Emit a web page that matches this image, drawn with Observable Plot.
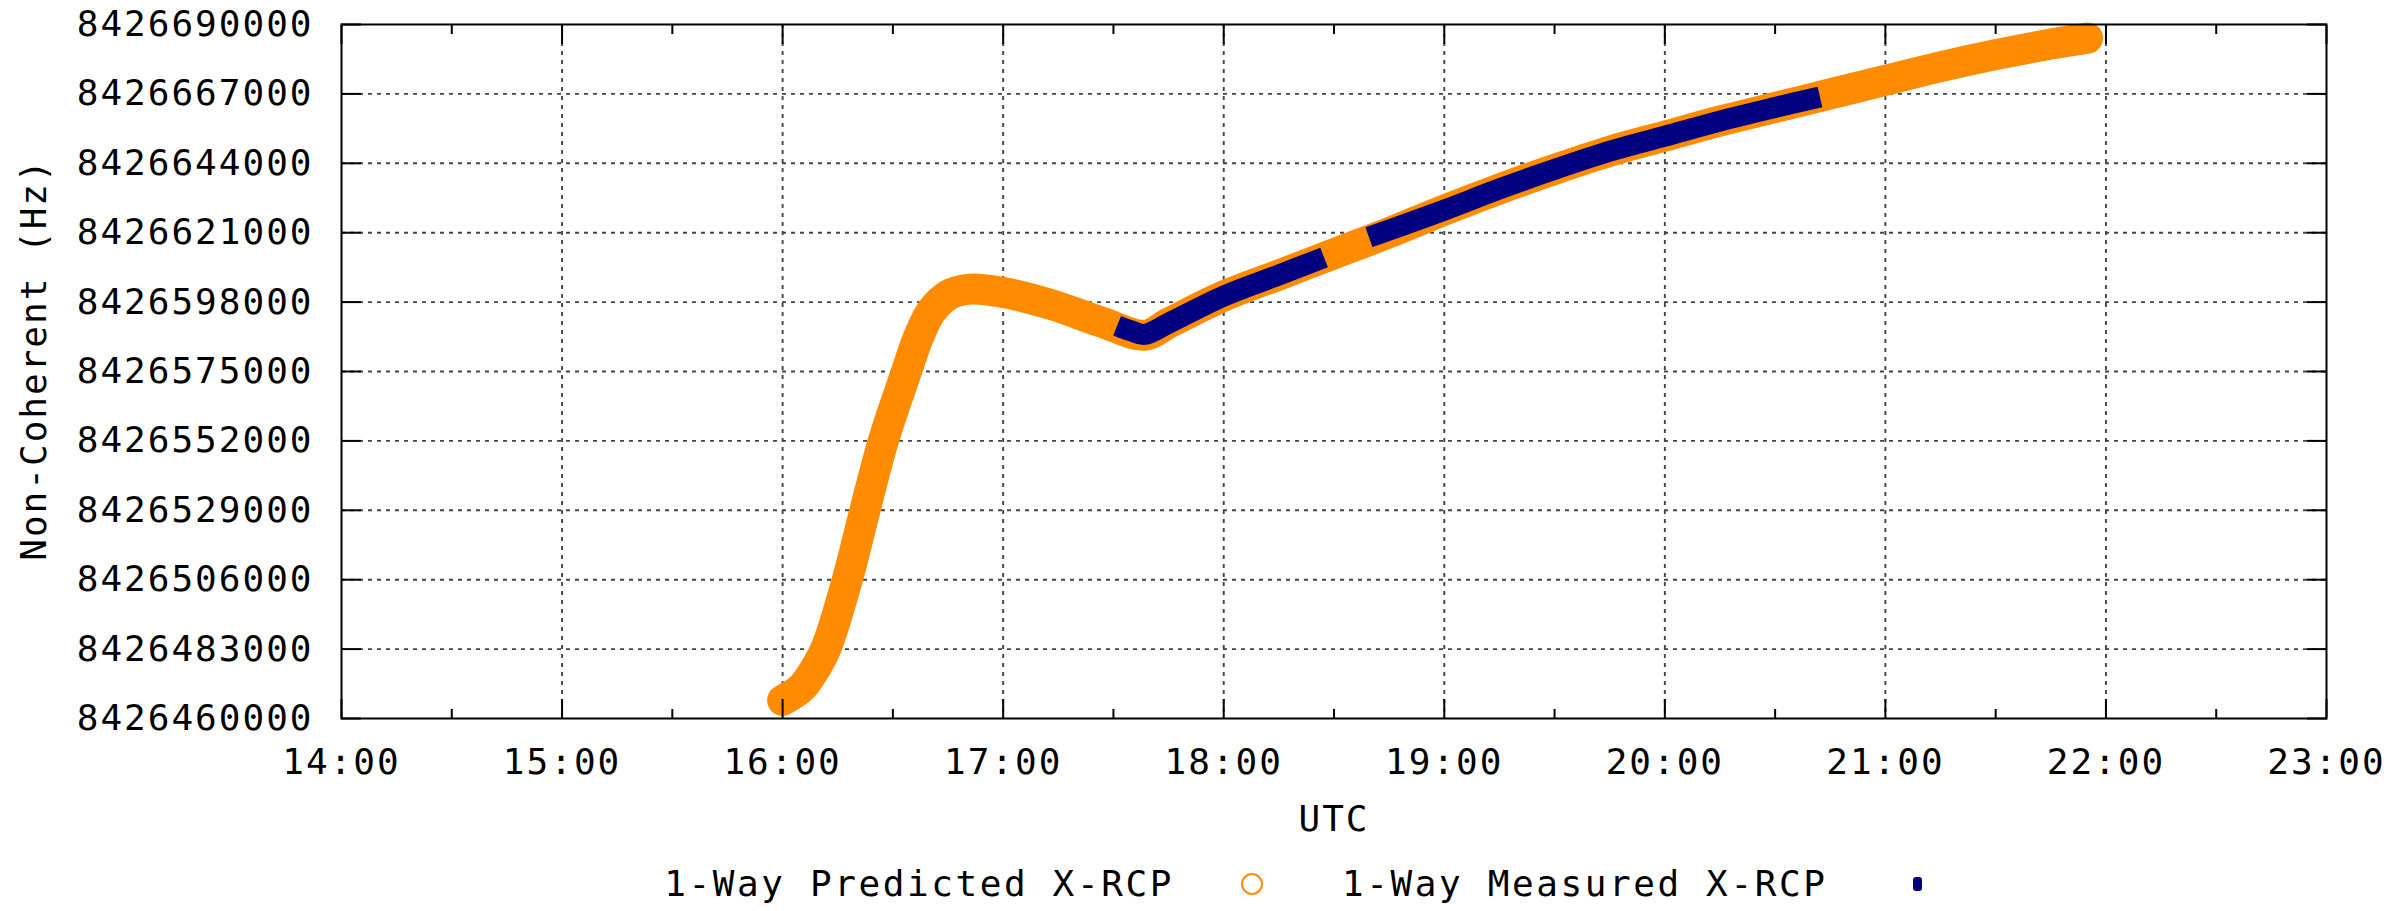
<!DOCTYPE html>
<html><head><meta charset="utf-8">
<script src="https://cdn.jsdelivr.net/npm/d3@7"></script>
<script src="https://cdn.jsdelivr.net/npm/@observablehq/plot@0.6"></script>
<style>
body{margin:0;background:#fff;}
#wrap{position:relative;width:2395px;height:911px;background:#fff;font-family:"DejaVu Sans Mono",monospace;font-size:36px;letter-spacing:2.6px;color:#000}
.lg{position:absolute;top:862px;line-height:44px;white-space:nowrap}
.sym{position:absolute;box-sizing:border-box}
</style></head><body><div id="wrap"></div>
<script>
// ---- data ----
const predictedTimes = ["16:00:00","16:05:00","16:08:36","16:11:42","16:17:36","16:22:24","16:27:24","16:33:42","16:37:00","16:40:30","16:45:00","16:51:00","17:00:00","17:13:00","17:26:30","17:38:30","17:45:00","18:00:00","18:15:00","18:30:00","18:45:00","19:00:00","19:15:00","19:30:00","19:45:00","20:00:00","20:15:00","20:30:00","20:45:00","21:00:00","21:15:00","21:30:00","21:45:00","21:55:00"];
const predictedValues = [8426466000,8426470000,8426476000,8426483000,8426506000,8426529000,8426552000,8426575000,8426586500,8426595000,8426600300,8426602300,8426601200,8426597200,8426591500,8426587000,8426591000,8426600000,8426607000,8426614000,8426621000,8426628500,8426635500,8426642000,8426648000,8426653000,8426658000,8426662500,8426667000,8426671500,8426676000,8426680000,8426683500,8426685500];
const measuredTimes = ["17:31:00","17:35:00","17:38:30","17:45:00","18:00:00","18:15:00","18:27:18","18:39:30","19:00:00","19:15:00","19:30:00","19:45:00","20:00:00","20:15:00","20:30:00","20:42:12"];
const measuredValues = [8426590200,8426588400,8426587300,8426591000,8426600000,8426607000,8426612800,8426619500,8426628500,8426635500,8426642000,8426648000,8426653000,8426658000,8426662500,8426666000];
const measuredSegment = [1,1,1,1,1,1,1,2,2,2,2,2,2,2,2,2];
const hourTicks = [14,15,16,17,18,19,20,21,22,23];
const halfHourTicks = [14.5,15.5,16.5,17.5,18.5,19.5,20.5,21.5,22.5];
const yTicks = [8426460000,8426483000,8426506000,8426529000,8426552000,8426575000,8426598000,8426621000,8426644000,8426667000,8426690000];
const legendLabels = ["1-Way Predicted X-RCP","1-Way Measured X-RCP"];
const xTitle = "UTC";
const yTitle = "Non-Coherent (Hz)";

const toHours = s => { const [h,m,sec] = s.split(":").map(Number); return h + m/60 + sec/3600; };
const predicted = predictedTimes.map((t,i) => ({t: toHours(t), v: predictedValues[i]}));
const measured = measuredTimes.map((t,i) => ({t: toHours(t), v: measuredValues[i], seg: measuredSegment[i]}));

const ORANGE = "#ff8c00", NAVY = "#000080";
const gridStyle = {stroke: "#444", strokeOpacity: 1, strokeWidth: 1.9, strokeDasharray: "4,5"};
const blank = () => "";

const chart = Plot.plot({
  width: 2395, height: 850,
  marginLeft: 341, marginRight: 69, marginTop: 24, marginBottom: 132,
  x: {domain: [14, 23], label: null},
  y: {domain: [8426460000, 8426690000], label: null},
  style: {fontFamily: '"DejaVu Sans Mono", monospace', fontSize: "36px", letterSpacing: "2px", background: "white", color: "black"},
  marks: [
    Plot.gridX(hourTicks.slice(1, -1), gridStyle),
    Plot.gridY(yTicks.slice(1, -1), gridStyle),
    Plot.line(predicted, {x: "t", y: "v", stroke: ORANGE, strokeWidth: 31, strokeLinecap: "round", strokeLinejoin: "round", curve: "catmull-rom"}),
    Plot.line(measured, {x: "t", y: "v", z: "seg", stroke: NAVY, strokeWidth: 21, strokeLinecap: "butt", strokeLinejoin: "round", curve: "catmull-rom"}),
    Plot.frame({stroke: "black", strokeWidth: 2}),
    Plot.axisX(hourTicks, {anchor: "bottom", tickSize: -19, tickPadding: 49, tickFormat: d => `${d}:00`, stroke: "black", strokeWidth: 2}),
    Plot.axisX(halfHourTicks, {anchor: "bottom", tickSize: -9, tickFormat: blank, stroke: "black", strokeWidth: 2}),
    Plot.axisX(hourTicks, {anchor: "top", tickSize: -19, tickFormat: blank, stroke: "black", strokeWidth: 2}),
    Plot.axisX(halfHourTicks, {anchor: "top", tickSize: -9, tickFormat: blank, stroke: "black", strokeWidth: 2}),
    Plot.axisY(yTicks, {anchor: "left", tickSize: -20, tickPadding: 48, tickFormat: d => d.toFixed(0), stroke: "black", strokeWidth: 2}),
    Plot.axisY(yTicks, {anchor: "right", tickSize: -20, tickFormat: blank, stroke: "black", strokeWidth: 2}),
    Plot.text([xTitle], {frameAnchor: "bottom", dy: 112, text: d => d}),
    Plot.text([yTitle], {frameAnchor: "left", textAnchor: "middle", dx: -307, dy: -12, rotate: -90, text: d => d, letterSpacing: "2.6px"})
  ]
});
const wrap = document.getElementById("wrap");
wrap.appendChild(chart);

// legend below the chart
function addText(txt, style) { const d = document.createElement("div"); d.className = "lg"; d.textContent = txt; Object.assign(d.style, style); wrap.appendChild(d); }
function addSym(style) { const d = document.createElement("div"); d.className = "sym"; Object.assign(d.style, style); wrap.appendChild(d); }
addText(legendLabels[0], {right: (2395 - 1174) + "px"});
addSym({left: "1241px", top: "873px", width: "22px", height: "22px", border: `2.5px solid ${ORANGE}`, borderRadius: "50%"});
addText(legendLabels[1], {left: "1342px"});
addSym({left: "1913px", top: "877px", width: "9px", height: "14px", background: NAVY, borderRadius: "3px"});
</script></body></html>
